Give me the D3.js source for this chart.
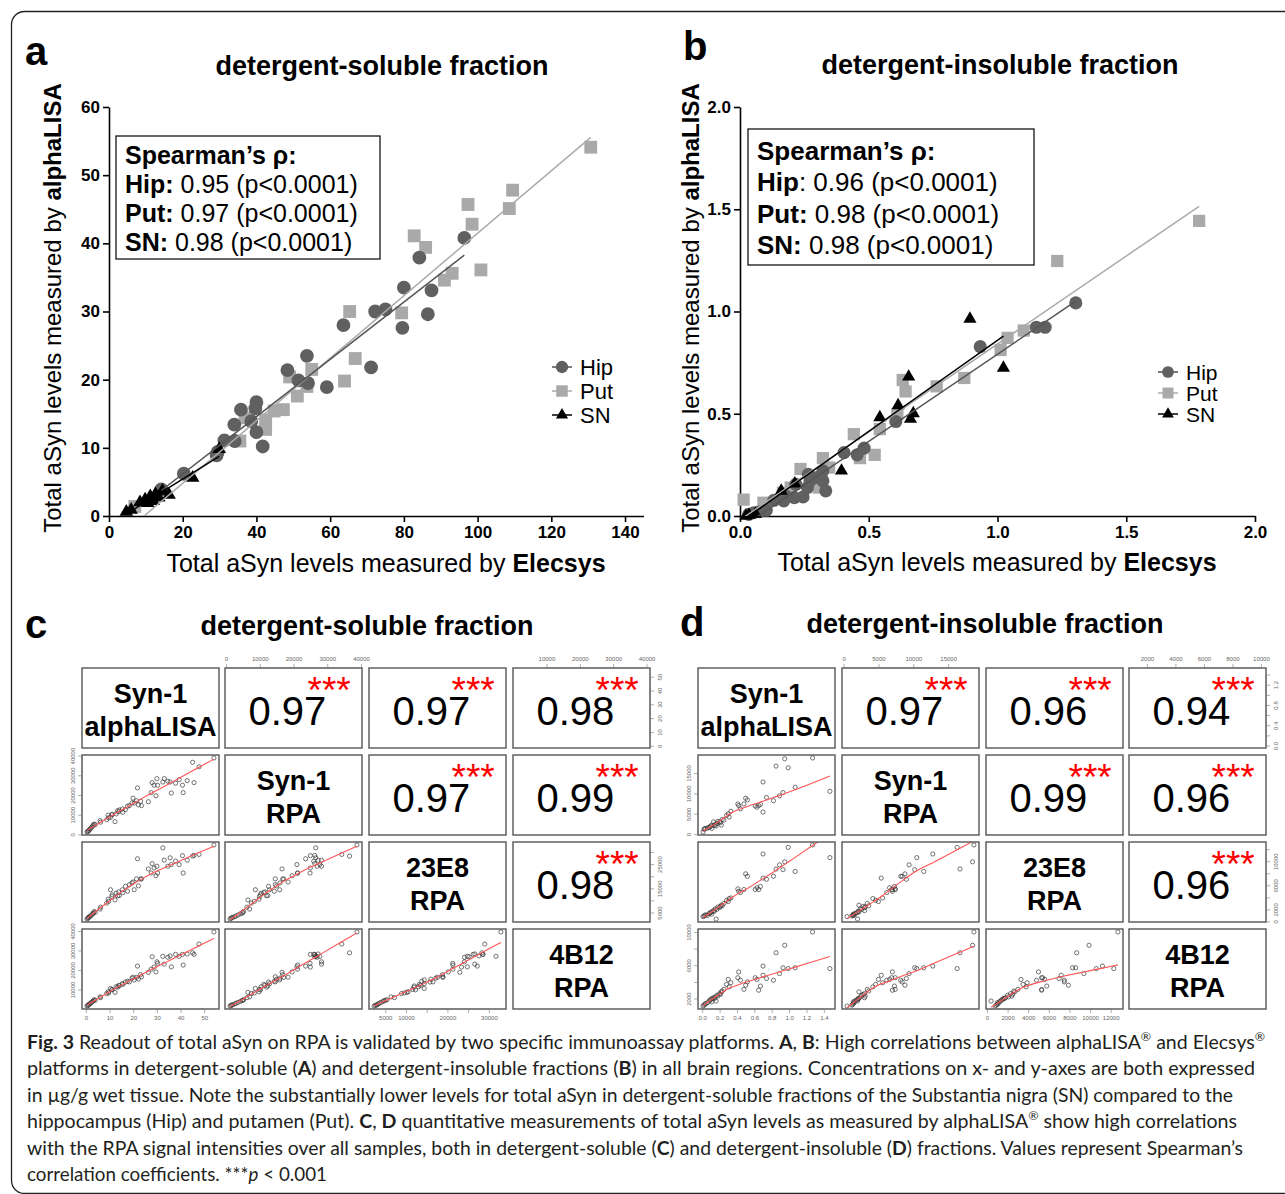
<!DOCTYPE html>
<html>
<head>
<meta charset="utf-8">
<script src="https://cdn.jsdelivr.net/npm/d3@7"></script>
<style>
  body {margin: 0; background: #fff;}
  svg {display: block;}
  text {font-family: "Liberation Sans", Arial, sans-serif;}
</style>
</head>
<body>
<svg id="fig" width="1285" height="1194"></svg>
<script>
`use strict`;

// panel a : [Elecsys, alphaLISA] in ug/g, detergent-soluble
const hipA = [[96.4,40.8],[84.2,37.9],[80.0,33.5],[87.5,33.1],[72.2,30.0],[75.0,30.3],[86.5,29.6],[79.6,27.6],[63.6,28.0],[53.7,23.5],[48.4,21.4],[51.4,19.9],[54.0,19.5],[59.1,18.9],[71.1,21.8],[35.8,15.6],[39.7,15.8],[40.0,16.7],[34.0,13.4],[38.6,13.9],[40.0,12.3],[41.7,10.2],[31.3,11.1],[34.1,11.0],[29.2,8.9],[29.5,9.4],[20.3,6.2],[14.2,3.9]];
const putA = [[130.7,54.1],[109.5,47.8],[108.6,45.1],[97.4,45.7],[98.5,42.8],[82.8,41.1],[85.9,39.4],[100.9,36.1],[93.1,35.6],[91.0,34.6],[65.3,30.0],[79.4,29.8],[66.8,23.1],[63.9,19.8],[55.0,21.5],[49.0,20.4],[51.1,17.6],[53.7,19.0],[47.3,15.6],[44.8,15.4],[42.5,14.1],[42.5,12.7],[36.9,14.4],[35.5,11.0],[7.0,1.4]];
const snA = [[4.7,0.6],[6.0,0.9],[8.4,2.0],[9.8,2.4],[10.5,1.9],[11.2,2.9],[12.0,2.2],[12.6,3.2],[13.5,2.7],[14.5,3.7],[16.3,3.1],[22.7,5.6],[29.9,9.8]];

// panel b : detergent-insoluble
const hipB = [[1.304,1.042],[1.185,0.923],[1.151,0.923],[0.933,0.828],[0.605,0.462],[0.482,0.332],[0.455,0.299],[0.404,0.310],[0.322,0.221],[0.322,0.172],[0.333,0.123],[0.265,0.204],[0.262,0.139],[0.217,0.155],[0.211,0.090],[0.245,0.093],[0.177,0.098],[0.170,0.074],[0.132,0.077],[0.102,0.028],[0.075,0.021],[0.054,0.016],[0.034,0.008],[0.299,0.188],[0.272,0.172]];
const putB = [[1.783,1.443],[1.232,1.247],[1.102,0.907],[1.039,0.871],[1.012,0.812],[0.871,0.675],[0.764,0.634],[0.632,0.665],[0.643,0.609],[0.611,0.498],[0.543,0.425],[0.523,0.299],[0.466,0.283],[0.442,0.400],[0.322,0.283],[0.346,0.237],[0.235,0.230],[0.167,0.114],[0.014,0.080],[0.091,0.065],[0.306,0.139],[0.197,0.139]];
const snB = [[0.893,0.964],[1.023,0.724],[0.655,0.681],[0.614,0.541],[0.673,0.502],[0.662,0.474],[0.543,0.482],[0.394,0.221],[0.213,0.158],[0.160,0.123],[0.023,0.0],[0.035,0.005],[0.060,0.010]];

const spearA = [[`Hip:`, ` 0.95 (p<0.0001)`], [`Put:`, ` 0.97 (p<0.0001)`], [`SN:`, ` 0.98 (p<0.0001)`]];
const spearB = [[`Hip`, `: 0.96 (p<0.0001)`], [`Put:`, ` 0.98 (p<0.0001)`], [`SN:`, ` 0.98 (p<0.0001)`]];
const groups = [`Hip`, `Put`, `SN`];

const ticksAX = [0, 20, 40, 60, 80, 100, 120, 140];
const ticksAY = [0, 10, 20, 30, 40, 50, 60];
const ticksB = [0, 0.5, 1.0, 1.5, 2.0];

// panel c : per sample [alphaLISA, Syn-1 RPA, 23E8 RPA, 4B12 RPA]
const alphaC = [0.5,0.8,1.0,1.3,1.6,2.0,2.4,2.9,3.2,3.5,4.0,6.0,6.2,8.8,9.4,9.6,10.4,11.0,11.1,12.3,12.8,13.4,13.9,14.1,15.4,15.6,16.7,17.6,18.4,19.5,19.9,20.4,21.4,21.8,22.2,23.1,23.5,26.4,27.6,28.0,28.8,29.6,30.0,30.3,32.5,33.1,34.6,35.6,36.1,37.9,39.4,40.8,41.1,42.8,45.1,45.7,47.8,54.1];
const syn1C = [1200,1500,1700,2000,2600,3000,3600,4300,4800,5200,5000,7000,6200,7500,9800,8400,8700,9900,10200,6500,10400,12000,11500,12400,12900,11200,12600,14300,14600,16000,18400,15900,17100,23600,15000,16800,14600,16600,21200,26300,25000,19600,28300,24900,26600,28300,27000,26600,21000,26000,27800,25000,21200,27300,36600,26300,34300,38800];
const e23C = [2300,2600,2900,3000,3300,3600,4000,4500,4700,5400,5100,6400,7200,8900,10500,9600,14400,11600,12300,10200,13000,11900,13500,12000,14400,13200,15800,13800,16500,17200,17600,14400,18900,27200,16000,18800,18900,23000,21300,25200,23400,20200,24100,21300,31700,26600,24100,27600,24800,26200,24800,28500,21300,26600,28300,28600,29000,32900];
const b412C = [1500,1800,2000,2200,2600,3000,3400,3900,4300,4700,4500,6200,5800,7900,8800,8200,10500,10000,9800,8500,11400,11200,12100,11800,13000,12600,13800,14200,13900,15800,16300,14900,16200,22000,15300,17600,16500,18800,20400,26800,21500,19000,24200,23400,27000,23000,26500,27200,21600,28000,27000,28000,22500,28200,28800,28000,33300,39500];

// panel d
const alphaD = [0.01,0.02,0.03,0.04,0.06,0.08,0.09,0.10,0.11,0.11,0.13,0.14,0.15,0.16,0.17,0.18,0.20,0.21,0.22,0.23,0.25,0.28,0.30,0.31,0.33,0.41,0.42,0.44,0.48,0.50,0.52,0.61,0.63,0.65,0.67,0.70,0.70,0.74,0.82,0.85,0.89,0.93,0.95,0.99,1.07,1.27,1.47];
const syn1D = [500,1200,1300,1400,1500,1600,1800,2000,2200,1400,3000,2100,2400,2000,2600,3100,3000,2800,2200,3600,3400,4600,5000,4200,5600,7400,7000,6200,7400,8800,8400,6900,6600,7000,7300,12800,5400,9000,8200,16700,9400,10200,18500,16300,11500,18700,10500];
const e23D = [800,900,1000,1100,1000,1300,1400,1500,1600,1200,1800,1700,2100,400,2000,2400,2300,2500,2700,2600,3000,3500,3300,3800,3900,5400,5000,4800,5300,7900,7500,5300,5600,5300,5800,11200,7200,7000,7500,8700,9400,8600,9900,12300,8300,12700,10600];
const b412D = [1100,1200,1300,1400,1500,1700,1800,1900,2000,1600,2100,2000,2200,1700,2400,2300,2600,2500,2800,2900,3100,3700,4300,3400,3900,4500,5200,4200,3100,3600,4000,4500,4300,3000,3500,5900,4800,4400,4200,7500,5000,5700,8400,5600,5700,10000,5600];

const pairNames = [[`Syn-1`, `alphaLISA`], [`Syn-1`, `RPA`], [`23E8`, `RPA`], [`4B12`, `RPA`]];
const corC = [[null, 0.97, 0.97, 0.98], [null, null, 0.97, 0.99], [null, null, null, 0.98]];
const corD = [[null, 0.97, 0.96, 0.94], [null, null, 0.99, 0.96], [null, null, null, 0.96]];

const ticksC = [[0,10,20,30,40,50], [0,10000,20000,30000,40000], [5000,10000,15000,20000,25000,30000], [10000,20000,30000,40000]];
const colLabC = [[0,10,20,30,40,50], [0,10000,20000,30000,40000], [5000,10000,20000,30000], [10000,20000,30000,40000]];
const rowLabC = [[0,10,20,30,40,50], [0,10000,20000,30000,40000], [5000,15000,25000], [10000,20000,30000,40000]];

const ticksD = [[0,0.2,0.4,0.6,0.8,1.0,1.2,1.4], [0,5000,10000,15000], [0,2000,4000,6000,8000,10000,12000], [2000,4000,6000,8000,10000]];
const colLabD = ticksD;
const rowLabD = [[0,0.4,0.8,1.2], [0,5000,10000,15000], [0,2000,6000,10000], [2000,6000,10000]];

const caption = [
  [[`b`, `Fig. 3`], [`n`, `  Readout of total aSyn on RPA is validated by two specific immunoassay platforms. `], [`b`, `A`], [`n`, `, `], [`b`, `B`], [`n`, `: High correlations between alphaLISA`], [`s`, `®`], [`n`, ` and Elecsys`], [`s`, `®`]],
  [[`n`, `platforms in detergent-soluble (`], [`b`, `A`], [`n`, `) and detergent-insoluble fractions (`], [`b`, `B`], [`n`, `) in all brain regions. Concentrations on x- and y-axes are both expressed`]],
  [[`n`, `in µg/g wet tissue. Note the substantially lower levels for total aSyn in detergent-soluble fractions of the Substantia nigra (SN) compared to the`]],
  [[`n`, `hippocampus (Hip) and putamen (Put). `], [`b`, `C`], [`n`, `, `], [`b`, `D`], [`n`, ` quantitative measurements of total aSyn levels as measured by alphaLISA`], [`s`, `®`], [`n`, ` show high correlations`]],
  [[`n`, `with the RPA signal intensities over all samples, both in detergent-soluble (`], [`b`, `C`], [`n`, `) and detergent-insoluble (`], [`b`, `D`], [`n`, `) fractions. Values represent Spearman’s`]],
  [[`n`, `correlation coefficients. ***`], [`i`, `p`], [`n`, ` < 0.001`]]
];
const captionWidth = [1238, 1228, 1206, 1210, 1216, 300];

(function () {

  const svg = d3.select(`#fig`);

  const style = {
    Hip: {fill: `#606060`, line: `#555555`, sym: d3.symbolCircle},
    Put: {fill: `#a9a9a9`, line: `#aaaaaa`, sym: d3.symbolSquare},
    SN: {fill: `#000000`, line: `#000000`, sym: d3.symbolTriangle}
  };

  // outer frame
  svg.append(`rect`)
    .attr(`x`, 11.5).attr(`y`, 11.5)
    .attr(`width`, 1400).attr(`height`, 1182)
    .attr(`rx`, 13)
    .attr(`fill`, `none`)
    .attr(`stroke`, `#222`)
    .style(`stroke-width`, 1.3);

  let letter = (t, x, y) => {
    svg.append(`text`).attr(`x`, x).attr(`y`, y)
      .style(`font-size`, `40px`).style(`font-weight`, `bold`)
      .text(t);
  }

  let title = (t, x, y) => {
    svg.append(`text`).attr(`x`, x).attr(`y`, y)
      .attr(`text-anchor`, `middle`)
      .style(`font-size`, `27px`).style(`font-weight`, `bold`)
      .text(t);
  }

  let fit = pts => {
    let mx = d3.mean(pts, d => d[0]), my = d3.mean(pts, d => d[1]);
    let sxy = d3.sum(pts, d => (d[0] - mx) * (d[1] - my));
    let sxx = d3.sum(pts, d => (d[0] - mx) * (d[0] - mx));
    let b = sxy / sxx;
    let ext = d3.extent(pts, d => d[0]);
    return ext.map(v => [v, my + b * (v - mx)]);
  }

  let scatter = P => {

    let x = d3.scaleLinear().domain(P.xDom).range(P.xR);
    let y = d3.scaleLinear().domain(P.yDom).range(P.yR);

    let g = svg.append(`g`);

    g.append(`clipPath`).attr(`id`, P.id)
      .append(`rect`)
      .attr(`x`, P.xR[0]).attr(`y`, P.yR[1])
      .attr(`width`, P.xR[1] - P.xR[0]).attr(`height`, P.yR[0] - P.yR[1]);

    let ax = g.append(`g`)
      .attr(`transform`, `translate(0,${P.yR[0]})`)
      .call(d3.axisBottom(x).tickValues(P.xTicks).tickSize(6).tickPadding(4).tickSizeOuter(0).tickFormat(d3.format(P.fmt)));

    let ay = g.append(`g`)
      .attr(`transform`, `translate(${P.xR[0]},0)`)
      .call(d3.axisLeft(y).tickValues(P.yTicks).tickSize(6).tickPadding(3).tickSizeOuter(0).tickFormat(d3.format(P.fmt)));

    [ax, ay].forEach(a => {
      a.selectAll(`path, line`).attr(`stroke`, `#000`).style(`stroke-width`, 1.6);
      a.selectAll(`text`)
        .attr(`fill`, `#000`)
        .style(`font-family`, `"Liberation Sans", Arial, sans-serif`)
        .style(`font-size`, `17px`)
        .style(`font-weight`, `bold`);
    });

    let pts = g.append(`g`);

    [[`Put`, P.put], [`Hip`, P.hip], [`SN`, P.sn]].forEach(([k, data]) => {
      pts.selectAll(`path.${k}`).data(data)
        .enter()
        .append(`path`)
        .attr(`class`, k)
        .attr(`d`, d3.symbol().type(style[k].sym).size(P.size[k]))
        .attr(`transform`, d => `translate(${x(d[0])},${y(d[1])})`)
        .attr(`fill`, style[k].fill);
    });

    let line = d3.line().x(d => x(d[0])).y(d => y(d[1]));

    [[`Put`, P.put], [`Hip`, P.hip], [`SN`, P.sn]].forEach(([k, data]) => {
      g.append(`path`)
        .attr(`d`, line(fit(data)))
        .attr(`clip-path`, `url(#${P.id})`)
        .attr(`fill`, `none`)
        .attr(`stroke`, style[k].line)
        .style(`stroke-width`, 1.5);
    });

    // Spearman box
    let B = P.box;
    g.append(`rect`)
      .attr(`x`, B.x).attr(`y`, B.y).attr(`width`, B.w).attr(`height`, B.h)
      .attr(`fill`, `#fff`).attr(`stroke`, `#000`).style(`stroke-width`, 1.2);

    g.append(`text`).attr(`x`, B.x + 9).attr(`y`, B.rows[0])
      .style(`font-size`, B.fs + `px`).style(`font-weight`, `bold`)
      .text(`Spearman’s ρ:`);

    P.spear.forEach((s, i) => {
      let t = g.append(`text`).attr(`x`, B.x + 9).attr(`y`, B.rows[i + 1])
        .style(`font-size`, B.fs + `px`);
      t.append(`tspan`).style(`font-weight`, `bold`).text(s[0]);
      t.append(`tspan`).text(s[1]);
    });

    // legend
    let L = P.legend;
    groups.forEach((k, i) => {
      let yy = L.y + i * L.dy;
      g.append(`line`)
        .attr(`x1`, L.x - 10).attr(`x2`, L.x + 10)
        .attr(`y1`, yy).attr(`y2`, yy)
        .attr(`stroke`, style[k].line).style(`stroke-width`, 1.5);
      g.append(`path`)
        .attr(`d`, d3.symbol().type(style[k].sym).size(P.size[k] * 0.8))
        .attr(`transform`, `translate(${L.x},${yy})`)
        .attr(`fill`, style[k].fill);
      g.append(`text`)
        .attr(`x`, L.x + 18).attr(`y`, yy + L.fs * 0.36)
        .style(`font-size`, L.fs + `px`)
        .text(k);
    });

    // axis titles
    let xt = g.append(`text`)
      .attr(`x`, P.xLab[0]).attr(`y`, P.xLab[1])
      .attr(`text-anchor`, `middle`)
      .style(`font-size`, `25px`);
    xt.append(`tspan`).text(`Total aSyn levels measured by `);
    xt.append(`tspan`).style(`font-weight`, `bold`).text(`Elecsys`);

    let yt = g.append(`text`)
      .attr(`transform`, `translate(${P.yLab[0]},${P.yLab[1]}) rotate(-90)`)
      .attr(`text-anchor`, `middle`)
      .style(`font-size`, `24px`);
    yt.append(`tspan`).text(`Total aSyn levels measured by `);
    yt.append(`tspan`).style(`font-weight`, `bold`).text(`alphaLISA`);
  }

  let lowess = (xs, ys, f = 2 / 3, iter = 3) => {
    let n = xs.length;
    let idx = d3.range(n).sort((a, b) => xs[a] - xs[b]);
    let x = idx.map(i => xs[i]), y = idx.map(i => ys[i]);
    let r = Math.max(2, Math.ceil(f * n));
    let rw = new Array(n).fill(1), out = new Array(n);
    for (let it = 0; it <= iter; it++) {
      for (let i = 0; i < n; i++) {
        let h = x.map(v => Math.abs(v - x[i])).sort((a, b) => a - b)[r - 1] || 1e-9;
        let sw = 0, sx = 0, sy = 0, sxx = 0, sxy = 0;
        for (let j = 0; j < n; j++) {
          let u = Math.abs(x[j] - x[i]) / h;
          let w = u < 1 ? Math.pow(1 - u * u * u, 3) * rw[j] : 0;
          sw += w; sx += w * x[j]; sy += w * y[j]; sxx += w * x[j] * x[j]; sxy += w * x[j] * y[j];
        }
        if (sw <= 0) { out[i] = y[i]; continue; }
        let mx = sx / sw, my = sy / sw, vx = sxx / sw - mx * mx;
        let b = vx > 1e-12 ? (sxy / sw - mx * my) / vx : 0;
        out[i] = my + b * (x[i] - mx);
      }
      if (it === iter) break;
      let res = y.map((v, i) => Math.abs(v - out[i]));
      let m = 6 * d3.median(res) || 1e-9;
      rw = res.map(e => { let u = e / m; return u < 1 ? Math.pow(1 - u * u, 2) : 0; });
    }
    return x.map((v, i) => [v, out[i]]);
  }

  let pairs = M => {

    let g = svg.append(`g`);
    let W = 137, H = 80;

    let ext = M.vars.map(v => {
      let e = d3.extent(v), d = e[1] - e[0];
      return [e[0] - 0.04 * d, e[1] + 0.04 * d];
    });

    let xs = ext.map((e, j) => d3.scaleLinear().domain(e).range([M.colX[j], M.colX[j] + W]));
    let ys = ext.map((e, i) => d3.scaleLinear().domain(e).range([M.rowY[i] + H, M.rowY[i]]));

    M.vars.forEach((vr, i) => {
      M.vars.forEach((vc, j) => {

        let cx = M.colX[j], cy = M.rowY[i];

        if (i > j) {
          let data = vc.map((v, k) => [v, vr[k]]);
          g.append(`g`).selectAll(`circle`).data(data)
            .enter()
            .append(`circle`)
            .attr(`cx`, d => xs[j](d[0]))
            .attr(`cy`, d => ys[i](d[1]))
            .attr(`r`, 2.1)
            .attr(`fill`, `none`)
            .attr(`stroke`, `#3a3a3a`)
            .style(`stroke-width`, 0.7);

          g.append(`clipPath`).attr(`id`, `${M.id}${i}${j}`)
            .append(`rect`).attr(`x`, cx).attr(`y`, cy).attr(`width`, W).attr(`height`, H);

          g.append(`path`)
            .attr(`d`, d3.line().x(d => xs[j](d[0])).y(d => ys[i](d[1]))(lowess(vc, vr)))
            .attr(`clip-path`, `url(#${M.id}${i}${j})`)
            .attr(`fill`, `none`)
            .attr(`stroke`, `#ff5555`)
            .style(`stroke-width`, 1.1);
        }

        else if (i === j) {
          M.names[i].forEach((t, l) => {
            g.append(`text`)
              .attr(`x`, cx + W / 2).attr(`y`, cy + 35 + l * 33)
              .attr(`text-anchor`, `middle`)
              .style(`font-size`, `27px`).style(`font-weight`, `bold`)
              .text(t);
          });
        }

        else {
          g.append(`text`)
            .attr(`x`, cx + W * 0.455).attr(`y`, cy + 57)
            .attr(`text-anchor`, `middle`)
            .style(`font-size`, `40px`)
            .text(d3.format(`.2f`)(M.cor[i][j]));
          g.append(`text`)
            .attr(`x`, cx + W * 0.76).attr(`y`, cy + 35)
            .attr(`text-anchor`, `middle`)
            .attr(`fill`, `#ff0000`)
            .style(`font-size`, `37px`)
            .text(`***`);
        }

        g.append(`rect`)
          .attr(`x`, cx).attr(`y`, cy).attr(`width`, W).attr(`height`, H)
          .attr(`fill`, `none`).attr(`stroke`, `#555`).style(`stroke-width`, 1.4);
      });
    });

    let small = (a, labs, fmt) => {
      a.selectAll(`.domain`).remove();
      a.selectAll(`line`).attr(`stroke`, `#777`).style(`stroke-width`, 0.6);
      a.selectAll(`text`)
        .attr(`fill`, `#666`)
        .style(`font-family`, `"Liberation Sans", Arial, sans-serif`)
        .style(`font-size`, `6px`)
        .text(d => labs.includes(d) ? d3.format(fmt)(d) : ``);
    }

    // column axes: bottom for 1st and 3rd column, top for 2nd and 4th
    M.ticks.forEach((tk, j) => {
      let top = j % 2 === 1;
      let yy = top ? M.rowY[0] : M.rowY[3] + H;
      let a = g.append(`g`)
        .attr(`transform`, `translate(0,${yy})`)
        .call((top ? d3.axisTop(xs[j]) : d3.axisBottom(xs[j])).tickValues(tk).tickSize(4).tickPadding(3));
      small(a, M.colLab[j], M.fmt[j]);
      a.append(`line`)
        .attr(`x1`, xs[j](tk[0])).attr(`x2`, xs[j](tk[tk.length - 1]))
        .attr(`stroke`, `#777`).style(`stroke-width`, 0.6);
    });

    // row axes: right for rows 1 and 3, left for rows 2 and 4
    M.ticks.forEach((tk, i) => {
      let left = i % 2 === 1;
      let xx = left ? M.colX[0] : M.colX[3] + W;
      let a = g.append(`g`)
        .attr(`transform`, `translate(${xx},0)`)
        .call((left ? d3.axisLeft(ys[i]) : d3.axisRight(ys[i])).tickValues(tk).tickSize(4).tickPadding(3));
      small(a, M.rowLab[i], M.fmt[i]);
      a.selectAll(`text`)
        .attr(`x`, 0).attr(`dy`, 0)
        .attr(`y`, left ? -7 : 12)
        .attr(`text-anchor`, `middle`)
        .attr(`transform`, `rotate(-90)`);
      a.append(`line`)
        .attr(`y1`, ys[i](tk[0])).attr(`y2`, ys[i](tk[tk.length - 1]))
        .attr(`stroke`, `#777`).style(`stroke-width`, 0.6);
    });
  }

  // ---- panel a
  letter(`a`, 25, 65);
  title(`detergent-soluble fraction`, 382, 75);
  scatter({
    id: `clipA`,
    xDom: [0, 145], xR: [109, 109 + 145 * 3.686],
    yDom: [0, 60], yR: [516, 107],
    xTicks: ticksAX, yTicks: ticksAY, fmt: `d`,
    hip: hipA, put: putA, sn: snA,
    size: {Hip: 150, Put: 165, SN: 80},
    spear: spearA,
    box: {x: 116, y: 136, w: 264, h: 123, fs: 25, rows: [164, 193, 222, 251]},
    legend: {x: 562, y: 367, dy: 24, fs: 22},
    xLab: [386, 572], yLab: [61, 308]
  });

  // ---- panel b
  letter(`b`, 683, 60);
  title(`detergent-insoluble fraction`, 1000, 74);
  scatter({
    id: `clipB`,
    xDom: [0, 2], xR: [740, 1255],
    yDom: [0, 2], yR: [516, 107],
    xTicks: ticksB, yTicks: ticksB, fmt: `.1f`,
    hip: hipB, put: putB, sn: snB,
    size: {Hip: 135, Put: 150, SN: 75},
    spear: spearB,
    box: {x: 748, y: 129, w: 286, h: 136, fs: 26, rows: [160, 191, 223, 254]},
    legend: {x: 1168, y: 372, dy: 21, fs: 21},
    xLab: [997, 571], yLab: [699, 308]
  });

  // ---- panel c
  letter(`c`, 25, 638);
  title(`detergent-soluble fraction`, 367, 635);
  pairs({
    id: `clipC`,
    vars: [alphaC, syn1C, e23C, b412C],
    names: pairNames, cor: corC,
    ticks: ticksC, colLab: colLabC, rowLab: rowLabC,
    fmt: [`d`, `d`, `d`, `d`],
    colX: [82, 225, 369, 513], rowY: [668, 755, 842, 929]
  });

  // ---- panel d
  letter(`d`, 680, 636);
  title(`detergent-insoluble fraction`, 985, 633);
  pairs({
    id: `clipD`,
    vars: [alphaD, syn1D, e23D, b412D],
    names: pairNames, cor: corD,
    ticks: ticksD, colLab: colLabD, rowLab: rowLabD,
    fmt: [`.1f`, `d`, `d`, `d`],
    colX: [698, 842, 986, 1129], rowY: [668, 755, 842, 929]
  });

  // ---- caption
  caption.forEach((parts, i) => {
    let t = svg.append(`text`)
      .attr(`x`, 27).attr(`y`, 1049 + i * 26.4)
      .attr(`fill`, `#231f20`)
      .attr(`textLength`, captionWidth[i])
      .attr(`lengthAdjust`, `spacingAndGlyphs`)
      .style(`font-family`, `Lato, "Noto Sans", sans-serif`)
      .style(`font-size`, `19px`);
    let raised = false;
    parts.forEach(([k, s]) => {
      let sp = t.append(`tspan`).text(s);
      if (k === `b`) sp.style(`font-weight`, `bold`);
      if (k === `i`) sp.style(`font-style`, `italic`);
      if (k === `s`) { sp.attr(`dy`, -8).style(`font-size`, `12px`); raised = true; }
      else if (raised) { sp.attr(`dy`, 8); raised = false; }
    });
  });

})();
</script>
</body>
</html>
